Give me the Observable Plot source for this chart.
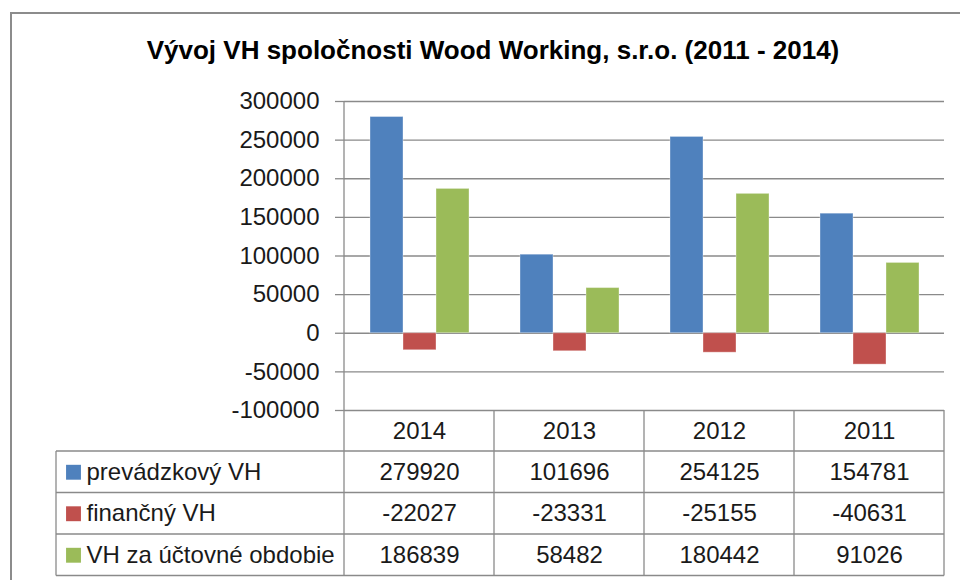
<!DOCTYPE html>
<html><head><meta charset="utf-8">
<script src="https://cdn.jsdelivr.net/npm/d3@7"></script>
<script src="https://cdn.jsdelivr.net/npm/@observablehq/plot@0.6"></script>
<style>
body{margin:0;background:#fff;}
#wrap{position:relative;width:960px;height:580px;overflow:hidden;font-family:"Liberation Sans",Arial,sans-serif;background:#fff;}
#frame{position:absolute;left:10px;top:12px;width:1000px;height:700px;border-left:2px solid #8c8c8c;border-top:2px solid #8c8c8c;}
#title{position:absolute;left:0;width:986px;top:35px;line-height:30px;text-align:center;font-size:26px;font-weight:bold;color:#000;}
#chart{position:absolute;left:0;top:80px;}
</style></head>
<body><div id="wrap"><div id="frame"></div><div id="title">Vývoj VH spoločnosti Wood Working, s.r.o. (2011 - 2014)</div><div id="chart"></div></div>
<script>
const years = ["2014", "2013", "2012", "2011"];
const seriesNames = ["prevádzkový VH", "finančný VH", "VH za účtovné obdobie"];
const prevadzkovyVH = [279920, 101696, 254125, 154781];
const financnyVH = [-22027, -23331, -25155, -40631];
const vhZaObdobie = [186839, 58482, 180442, 91026];
const seriesColors = ["#4F81BD", "#C0504D", "#9BBB59"];
const yTicks = [-100000, -50000, 0, 50000, 100000, 150000, 200000, 250000, 300000];

const seriesValues = [prevadzkovyVH, financnyVH, vhZaObdobie];
const rows = years.flatMap((yr, i) => seriesNames.map((s, j) => ({year: yr, series: s, value: seriesValues[j][i]})));

const lineColor = "#8a8a8a";
const headerH = 41, rowH = 41.5;
const textFont = "'Liberation Sans', Arial, sans-serif";

const tableMarks = [];
// header (years)
tableMarks.push(Plot.text(years, {fx: d => d, text: d => d, frameAnchor: "bottom", lineAnchor: "middle", dy: headerH / 2, fontSize: 24}));
seriesNames.forEach((name, j) => {
  const cy = headerH + rowH * (j + 0.5);
  tableMarks.push(Plot.text(rows.filter(r => r.series === name), {fx: "year", text: d => String(d.value), frameAnchor: "bottom", lineAnchor: "middle", dy: cy, fontSize: 24}));
  tableMarks.push(Plot.text([name], {fx: () => years[0], text: d => d, frameAnchor: "bottom-left", lineAnchor: "middle", textAnchor: "start", dx: -258, dy: cy, fontSize: 24}));
  tableMarks.push(Plot.dot([name], {fx: () => years[0], frameAnchor: "bottom-left", dx: -271, dy: cy, symbol: "square", r: 8.4, fill: seriesColors[j], stroke: null}));
});

const plot = Plot.plot({
  width: 960, height: 500,
  marginLeft: 344, marginRight: 16, marginTop: 21, marginBottom: 170,
  style: {fontFamily: textFont, fontSize: "24px", color: "#1a1a1a", background: "transparent", overflow: "visible"},
  fx: {domain: years, padding: 0, axis: null},
  x: {domain: seriesNames, paddingInner: 0, paddingOuter: 0.75, axis: null},
  y: {domain: [yTicks[0], yTicks[yTicks.length - 1]], axis: null},
  color: {domain: seriesNames, range: seriesColors},
  marks: [
    Plot.gridY(yTicks, {stroke: lineColor, strokeOpacity: 1, strokeWidth: 1.3}),
    Plot.barY(rows, {fx: "year", x: "series", y: "value", fill: "series", stroke: "white", strokeOpacity: 0.35, strokeWidth: 1}),
    Plot.axisY(yTicks, {label: null, tickSize: 9, tickPadding: 16, tickFormat: d => String(d), fontSize: 24, stroke: lineColor, strokeWidth: 1.3}),
    ...tableMarks
  ]
});
document.getElementById("chart").appendChild(plot);

// table grid lines + value axis line, placed with Plot's own scales
const fx = plot.scale("fx"), y = plot.scale("y");
const left = fx.apply(years[0]);
const right = fx.apply(years[years.length - 1]) + fx.bandwidth;
const yb = y.apply(yTicks[0]), yt = y.apply(yTicks[yTicks.length - 1]);
const tableBottom = yb + headerH + rowH * seriesNames.length;
const tableLeft = 56;
const g = d3.select(plot).append("g").attr("stroke", lineColor).attr("stroke-width", 1.3);
g.append("line").attr("x1", left).attr("x2", left).attr("y1", yt).attr("y2", tableBottom);
years.forEach(yr => {
  const xr = fx.apply(yr) + fx.bandwidth;
  g.append("line").attr("x1", xr).attr("x2", xr).attr("y1", yb).attr("y2", tableBottom);
});
for (let k = 0; k <= seriesNames.length; k++) {
  const yy = yb + headerH + rowH * k;
  g.append("line").attr("x1", tableLeft).attr("x2", right).attr("y1", yy).attr("y2", yy);
}
g.append("line").attr("x1", tableLeft).attr("x2", tableLeft).attr("y1", yb + headerH).attr("y2", tableBottom);
</script>
</body></html>
